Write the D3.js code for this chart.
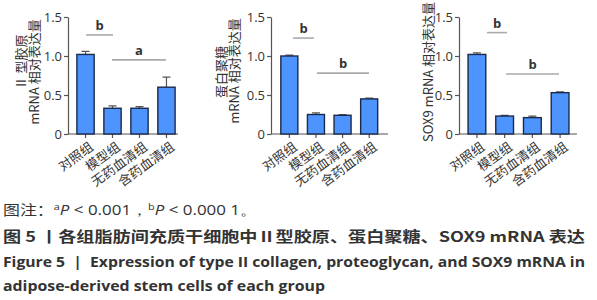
<!DOCTYPE html>
<html lang="zh">
<head>
<meta charset="UTF-8">
<title>Figure 5</title>
<script src="https://d3js.org/d3.v7.min.js"></script>
<style>
  body { margin: 0; background: #fff; font-family: "Noto Sans CJK SC", "Noto Sans", sans-serif; }
  .axis path, .axis line { stroke: #555; stroke-width: 1.2; }
  .axis text { font-family: "Open Sans", "Liberation Sans", sans-serif; font-size: 13px; fill: #333; }
  .xlab { font-size: 13px; fill: #333; }
  .ylab { font-size: 13px; fill: #333; }
  .bar { fill: #4d94ff; stroke: #1b2a4a; stroke-width: 1.4; }
  .err { stroke: #555; stroke-width: 1.2; fill: none; }
  .sig { stroke: #aaa; stroke-width: 1.6; }
  .sigtext { font-family: "Open Sans", "Liberation Sans", sans-serif; font-size: 13px; font-weight: bold; fill: #333; }
</style>
</head>
<body>
<div id="chart"></div>
<script>
const groups = ["对照组", "模型组", "无药血清组", "含药血清组"];
const yTicks = [0, 0.5, 1.0, 1.5];
const tickLabels = ["0", "0.5", "1.0", "1.5"];

const collagenMean = [1.02, 0.33, 0.33, 0.60];
const collagenErr = [0.04, 0.03, 0.02, 0.13];
const proteoMean = [1.00, 0.25, 0.24, 0.45];
const proteoErr = [0.01, 0.02, 0.01, 0.01];
const soxMean = [1.02, 0.23, 0.21, 0.53];
const soxErr = [0.02, 0.01, 0.02, 0.01];

const collagenTitle = ["Ⅱ 型胶原", "mRNA 相对表达量"];
const proteoTitle = ["蛋白聚糖", "mRNA 相对表达量"];
const soxTitle = ["SOX9 mRNA 相对表达量"];

// significance: [level, label]
const collagenSig = [[1.27, "b"], [0.95, "a"]];
const proteoSig = [[1.23, "b"], [0.78, "b"]];
const soxSig = [[1.30, "b"], [0.77, "b"]];

const captionNote = "图注：";
const captionTitle = "图 5 丨各组脂肪间充质干细胞中Ⅱ型胶原、蛋白聚糖、SOX9 mRNA 表达";
const captionEn1 = "Figure 5\u00a0\u00a0|\u00a0\u00a0Expression of type II collagen, proteoglycan, and SOX9 mRNA in";
const captionEn2 = "adipose-derived stem cells of each group";

const W = 597, H = 300;
const svg = d3.select("#chart").append("svg").attr("width", W).attr("height", H);

const y = d3.scaleLinear().domain([0, 1.5]).range([134, 17]);

const panels = [
  { axisX: 68, x0: 71.5, x1: 180.5, axisEnd: 178, mean: collagenMean, err: collagenErr, title: collagenTitle, titleX: [21, 34], titleY: [62, 72], sig: collagenSig, sigSpan: [[86, 113], [112, 166]] },
  { axisX: 271, x0: 275.5, x1: 383, axisEnd: 388, mean: proteoMean, err: proteoErr, title: proteoTitle, titleX: [221, 234], titleY: [72, 71], sig: proteoSig, sigSpan: [[293, 314], [317, 369]] },
  { axisX: 459, x0: 462.5, x1: 574.5, axisEnd: 577, mean: soxMean, err: soxErr, title: soxTitle, titleX: [428], titleY: [72], sig: soxSig, sigSpan: [[487, 507], [506, 559]] }
];

panels.forEach(p => {
  const g = svg.append("g");
  const x = d3.scaleBand().domain(groups).range([p.x0, p.x1]).paddingInner(0.36).paddingOuter(0.2);

  // y axis
  g.append("g").attr("class", "axis")
    .attr("transform", `translate(${p.axisX},0)`)
    .call(d3.axisLeft(y).tickValues(yTicks).tickFormat((d, i) => tickLabels[i]).tickSize(4).tickPadding(2).tickSizeOuter(0));

  // x axis baseline
  g.append("line").attr("x1", p.axisX).attr("x2", p.axisEnd)
    .attr("y1", y(0)).attr("y2", y(0)).attr("stroke", "#555").attr("stroke-width", 1.2);
  groups.forEach(gr => {
    const cx = x(gr) + x.bandwidth() / 2;
    g.append("line").attr("x1", cx).attr("x2", cx).attr("y1", y(0)).attr("y2", y(0) + 4)
      .attr("stroke", "#555").attr("stroke-width", 1.2);
  });

  // error bars
  g.selectAll(".err").data(groups).enter().append("path").attr("class", "err")
    .attr("d", (d, i) => {
      const cx = x(d) + x.bandwidth() / 2;
      const top = y(p.mean[i] + p.err[i]);
      return `M${cx},${y(p.mean[i])}V${top}M${cx - 4},${top}H${cx + 4}`;
    });

  // bars
  g.selectAll(".bar").data(groups).enter().append("rect").attr("class", "bar")
    .attr("x", d => x(d)).attr("width", x.bandwidth())
    .attr("y", (d, i) => y(p.mean[i])).attr("height", (d, i) => y(0) - y(p.mean[i]));

  // x labels
  groups.forEach(gr => {
    const cx = x(gr) + x.bandwidth() / 2 + 3;
    g.append("text").attr("class", "xlab")
      .attr("transform", `translate(${cx},${y(0) + 7}) rotate(-36)`)
      .attr("text-anchor", "end").attr("dy", "0.75em").text(gr);
  });

  // y title
  p.title.forEach((t, i) => {
    g.append("text").attr("class", "ylab")
      .attr("transform", `translate(${p.titleX[i]},${p.titleY[i]}) rotate(-90)`)
      .attr("text-anchor", "middle").attr("dy", "0.35em").text(t);
  });

  // significance
  p.sig.forEach((s, i) => {
    const [a, b] = p.sigSpan[i];
    g.append("line").attr("class", "sig").attr("x1", a).attr("x2", b)
      .attr("y1", y(s[0])).attr("y2", y(s[0]));
    g.append("text").attr("class", "sigtext").attr("x", (a + b) / 2).attr("y", y(s[0]) - 5)
      .attr("text-anchor", "middle").text(s[1]);
  });
});

// captions
const note = svg.append("text").attr("x", 3).attr("y", 215).attr("font-size", 14).attr("fill", "#333")
  .attr("textLength", 254).attr("lengthAdjust", "spacingAndGlyphs");
note.append("tspan").text(captionNote);
note.append("tspan").attr("font-size", 9).attr("dy", -5).attr("font-family", "Open Sans").text("a");
note.append("tspan").attr("dy", 5).attr("font-style", "italic").attr("font-family", "Open Sans").text("P");
note.append("tspan").attr("font-family", "Open Sans").text("\u00a0< 0.001，");
note.append("tspan").attr("font-size", 9).attr("dy", -5).attr("font-family", "Open Sans").text("b");
note.append("tspan").attr("dy", 5).attr("font-style", "italic").attr("font-family", "Open Sans").text("P");
note.append("tspan").attr("font-family", "Open Sans").text("\u00a0< 0.000 1。");

svg.append("text").attr("x", 3).attr("y", 242).attr("font-size", 14.5).attr("font-weight", 600)
  .attr("fill", "#333").attr("textLength", 582).attr("lengthAdjust", "spacingAndGlyphs").text(captionTitle);
svg.append("text").attr("x", 3).attr("y", 267).attr("font-size", 14).attr("font-weight", "bold")
  .attr("font-family", "Open Sans, Liberation Sans, sans-serif")
  .attr("fill", "#333").attr("textLength", 582).attr("lengthAdjust", "spacingAndGlyphs").text(captionEn1);
svg.append("text").attr("x", 3).attr("y", 291).attr("font-size", 14).attr("font-weight", "bold")
  .attr("font-family", "Open Sans, Liberation Sans, sans-serif")
  .attr("fill", "#333").attr("textLength", 322).attr("lengthAdjust", "spacingAndGlyphs").text(captionEn2);
</script>
</body>
</html>
